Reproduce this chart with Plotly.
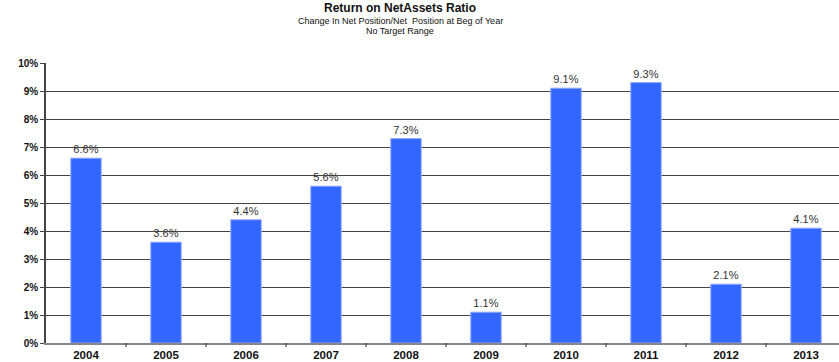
import plotly.graph_objects as go

years = ["2004", "2005", "2006", "2007", "2008", "2009", "2010", "2011", "2012", "2013"]
ratio_pct = [6.6, 3.6, 4.4, 5.6, 7.3, 1.1, 9.1, 9.3, 2.1, 4.1]
y_ticks = list(range(0, 11))
y_tick_labels = [f"{v}%" for v in y_ticks]

title_lines = [
    ("Return on NetAssets Ratio", 12, True),
    ("Change In Net Position/Net  Position at Beg of Year", 9, False),
    ("No Target Range", 9, False),
]

FONT = "Liberation Sans, Arial, sans-serif"
W, H = 839, 362
M_L, M_R, M_T, M_B = 46, 0, 63, 19
plot_h = H - M_T - M_B

fig = go.Figure(
    go.Bar(
        x=list(range(len(years))),
        y=ratio_pct,
        width=0.38,
        marker=dict(color="#3366FF", line=dict(color="#8FA5FF", width=1)),
        text=[f"{v:.1f}%" for v in ratio_pct],
        textposition="outside",
        textfont=dict(family=FONT, size=11, color="#333333"),
        cliponaxis=False,
        hoverinfo="skip",
    )
)

annotations = []
line_y = [0, 15, 25]
for (txt, size, bold), py in zip(title_lines, line_y):
    annotations.append(
        dict(
            text=f"<b>{txt}</b>" if bold else txt,
            x=(400 - M_L) / (W - M_L - M_R),
            xref="paper",
            y=1 + (M_T - py) / plot_h,
            yref="paper",
            xanchor="center",
            yanchor="top",
            borderpad=0,
            showarrow=False,
            font=dict(family=FONT, size=size, color="#111111"),
        )
    )

fig.update_layout(
    width=W,
    height=H,
    margin=dict(l=M_L, r=M_R, t=M_T, b=M_B),
    paper_bgcolor="white",
    plot_bgcolor="white",
    showlegend=False,
    annotations=annotations,
    font=dict(family=FONT),
)

fig.update_xaxes(
    range=[-0.5, -0.5 + (W - M_L - M_R) / 80.0],
    tickmode="array",
    tickvals=list(range(len(years))),
    ticktext=[f"<b>{y}</b>" for y in years],
    tickfont=dict(family=FONT, size=11.5, color="#111111"),
    showgrid=False,
    showline=True,
    linecolor="#888888",
    linewidth=1.5,
    ticks="",
    zeroline=False,
)

# boundary tick marks between categories
for i in range(1, len(years)):
    fig.add_shape(
        type="line",
        xref="x",
        yref="paper",
        x0=i - 0.5,
        x1=i - 0.5,
        y0=0,
        y1=-4 / plot_h,
        line=dict(color="#333333", width=1),
    )

fig.update_yaxes(
    range=[0, 10],
    tickmode="array",
    tickvals=y_ticks,
    ticktext=[f"<b>{t}</b>" for t in y_tick_labels],
    tickfont=dict(family=FONT, size=10, color="#111111"),
    showgrid=True,
    gridcolor="#444444",
    gridwidth=1,
    showline=True,
    linecolor="#444444",
    linewidth=1.5,
    ticks="outside",
    ticklen=4,
    tickcolor="#444444",
    zeroline=False,
)

fig.write_html("out.html")
